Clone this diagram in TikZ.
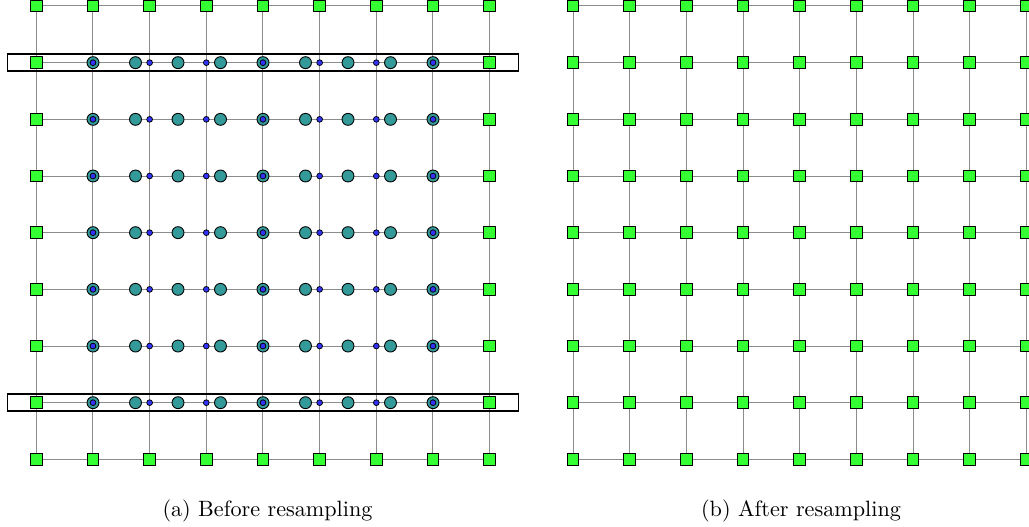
\documentclass[tikz,border=0pt]{standalone}
\definecolor{fixgreen}{RGB}{51,255,51}
\definecolor{oldteal}{RGB}{51,153,153}
\definecolor{newblue}{RGB}{51,51,255}
\begin{document}
\begin{tikzpicture}[x=0.451pt,y=-0.451pt,
    gridline/.style={draw=black!45,line width=0.45pt},
    fixed/.style={draw,fill=fixgreen,minimum size=5.3pt,inner sep=0pt,line width=0.45pt},
    sample/.style={circle,draw,fill=oldteal,minimum size=5.4pt,inner sep=0pt,line width=0.4pt},
    target/.style={circle,draw,fill=newblue,minimum size=2.6pt,inner sep=0pt,line width=0.35pt},
    band/.style={draw,line width=0.7pt}]
  \useasboundingbox (0,0) rectangle (1029,527);
  \foreach \i in {1,...,9}
    \foreach \j in {1,...,9} {
      \coordinate (a-\i-\j) at ({36.3+56.67*(\i-1)},{6+56.67*(\j-1)});
      \coordinate (b-\i-\j) at ({573+56.67*(\i-1)},{6+56.67*(\j-1)});
    }
  \foreach \k in {1,...,9} {
    \draw[gridline] (a-1-\k) -- (a-9-\k);
    \draw[gridline] (a-\k-1) -- (a-\k-9);
    \draw[gridline] (b-1-\k) -- (b-9-\k);
    \draw[gridline] (b-\k-1) -- (b-\k-9);
  }
  % left: boundary points stay, interior rows get resampled
  \draw[band] (7.3,54.2) rectangle (518.3,71.2);
  \draw[band] (7.3,394.2) rectangle (518.3,411.2);
  \foreach \i in {1,...,9} {
    \node[fixed] (fa-\i-1) at (a-\i-1) {};
    \node[fixed] (fa-\i-9) at (a-\i-9) {};
  }
  \foreach \j in {2,...,8} {
    \node[fixed] (fa-1-\j) at (a-1-\j) {};
    \node[fixed] (fa-9-\j) at (a-9-\j) {};
    \foreach \m in {0,...,8}
      \node[sample] (s-\m-\j) at ({93+42.5*\m},{6+56.67*(\j-1)}) {};
    \foreach \i in {2,...,8}
      \node[target] (t-\i-\j) at (a-\i-\j) {};
  }
  % right: regular grid
  \foreach \i in {1,...,9}
    \foreach \j in {1,...,9}
      \node[fixed] (fb-\i-\j) at (b-\i-\j) {};
  \node[anchor=base] (capa) at (267.5,516) {(a) Before resampling};
  \node[anchor=base] (capb) at (801,516) {(b) After resampling};
\end{tikzpicture}
\end{document}
